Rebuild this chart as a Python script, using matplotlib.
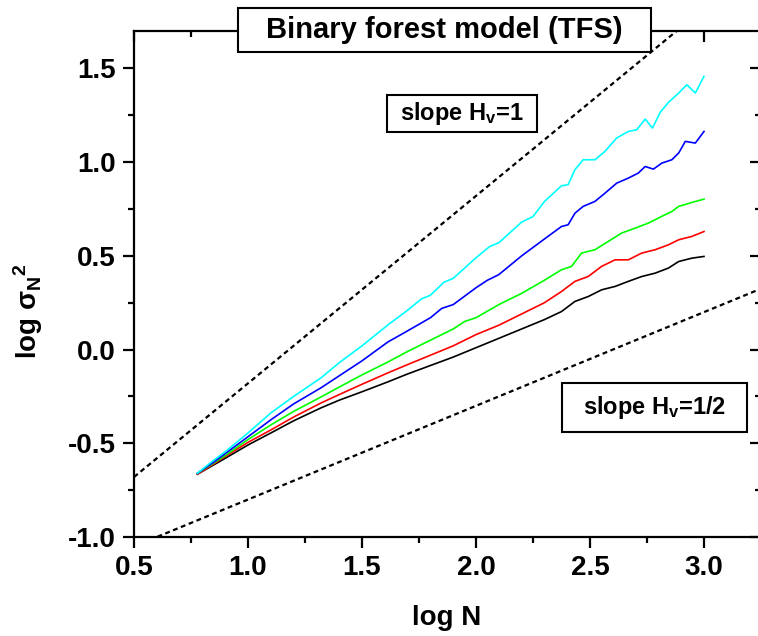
import matplotlib
matplotlib.use('Agg')
import matplotlib.pyplot as plt
from matplotlib.patches import Rectangle
from matplotlib.ticker import MultipleLocator

plt.rcParams['font.family'] = ['Liberation Sans', 'DejaVu Sans']
plt.rcParams['font.weight'] = 'bold'
plt.rcParams['mathtext.fontset'] = 'custom'
plt.rcParams['mathtext.rm'] = 'Liberation Sans:bold'
plt.rcParams['mathtext.it'] = 'Liberation Sans:bold'
plt.rcParams['mathtext.bf'] = 'Liberation Sans:bold'

# curves (log N, log sigma_N^2)
cyan_x = [0.778, 0.85, 0.9, 1.0, 1.1, 1.2, 1.32, 1.4, 1.5, 1.614, 1.7, 1.76, 1.8, 1.86, 1.9, 2.0, 2.06,
          2.1, 2.2, 2.25, 2.3, 2.375, 2.404, 2.434, 2.470, 2.522, 2.566, 2.617, 2.668, 2.705, 2.742,
          2.774, 2.808, 2.844, 2.889, 2.925, 2.962, 3.0]
cyan_y = [-0.66, -0.59, -0.545, -0.445, -0.338, -0.25, -0.151, -0.07, 0.02, 0.132, 0.21, 0.27, 0.29,
          0.36, 0.38, 0.49, 0.55, 0.57, 0.68, 0.71, 0.79, 0.874, 0.880, 0.960, 1.013, 1.013, 1.058,
          1.129, 1.164, 1.173, 1.230, 1.182, 1.266, 1.319, 1.369, 1.413, 1.369, 1.458]

blue_x = [0.778, 0.85, 0.9, 1.0, 1.1, 1.2, 1.32, 1.4, 1.5, 1.614, 1.7, 1.8, 1.85, 1.9, 2.0, 2.05, 2.1,
          2.2, 2.3, 2.375, 2.404, 2.434, 2.470, 2.522, 2.566, 2.617, 2.668, 2.712, 2.742, 2.778, 2.815,
          2.859, 2.889, 2.918, 2.962, 3.0]
blue_y = [-0.66, -0.60, -0.555, -0.465, -0.375, -0.29, -0.204, -0.14, -0.06, 0.041, 0.10, 0.17, 0.22,
          0.24, 0.33, 0.37, 0.40, 0.50, 0.59, 0.657, 0.666, 0.728, 0.764, 0.791, 0.835, 0.888, 0.915,
          0.942, 0.977, 0.963, 0.995, 1.013, 1.049, 1.111, 1.102, 1.164]

green_x = [0.778, 0.85, 0.9, 1.0, 1.1, 1.2, 1.32, 1.4, 1.5, 1.614, 1.7, 1.8, 1.9, 1.95, 2.0, 2.1, 2.2,
           2.3, 2.375, 2.419, 2.463, 2.522, 2.580, 2.639, 2.698, 2.756, 2.815, 2.859, 2.889, 2.947, 3.0]
green_y = [-0.66, -0.605, -0.565, -0.48, -0.402, -0.33, -0.253, -0.20, -0.135, -0.066, -0.01, 0.05,
           0.11, 0.15, 0.17, 0.24, 0.30, 0.37, 0.426, 0.444, 0.515, 0.533, 0.577, 0.622, 0.648, 0.675,
           0.711, 0.737, 0.764, 0.785, 0.803]

red_x = [0.778, 0.85, 0.9, 1.0, 1.1, 1.2, 1.32, 1.4, 1.5, 1.614, 1.7, 1.8, 1.9, 2.0, 2.1, 2.2, 2.3,
         2.375, 2.434, 2.492, 2.551, 2.610, 2.668, 2.727, 2.786, 2.844, 2.889, 2.947, 3.0]
red_y = [-0.665, -0.61, -0.57, -0.495, -0.429, -0.36, -0.285, -0.24, -0.185, -0.124, -0.08, -0.03,
         0.02, 0.08, 0.13, 0.19, 0.25, 0.31, 0.364, 0.390, 0.444, 0.479, 0.479, 0.515, 0.533, 0.559,
         0.586, 0.604, 0.630]

black_x = [0.778, 0.85, 0.9, 1.0, 1.1, 1.2, 1.32, 1.4, 1.5, 1.614, 1.7, 1.8, 1.9, 2.0, 2.1, 2.2, 2.3,
           2.375, 2.434, 2.492, 2.551, 2.610, 2.668, 2.727, 2.786, 2.844, 2.889, 2.947, 3.0]
black_y = [-0.665, -0.615, -0.58, -0.509, -0.445, -0.38, -0.311, -0.27, -0.225, -0.172, -0.13, -0.085,
           -0.04, 0.01, 0.06, 0.11, 0.16, 0.203, 0.257, 0.283, 0.319, 0.337, 0.364, 0.390, 0.408, 0.435,
           0.470, 0.488, 0.497]

# reference slopes (dashed)
ref_x = [0.5, 3.25]
slope1_y = [-0.68, 2.07]
slope_half_y = [-1.05, 0.325]

W, H = 758, 636
fig = plt.figure(figsize=(W / 100, H / 100), dpi=100)
ax = fig.add_axes([134 / W, 99 / H, 627 / W, 506 / H])

ax.plot(ref_x, slope1_y, color='black', lw=1.6, ls=(0, (2.2, 1.6)))
ax.plot(ref_x, slope_half_y, color='black', lw=1.6, ls=(0, (2.2, 1.6)))

for xs, ys, c in [(black_x, black_y, '#000000'), (red_x, red_y, '#ff0000'),
                  (green_x, green_y, '#00ff00'), (blue_x, blue_y, '#0000ff'),
                  (cyan_x, cyan_y, '#00ffff')]:
    ax.plot(xs, ys, color=c, lw=1.2)

ax.set_xlim(0.5, 3.25)
ax.set_ylim(-1.0, 1.7)
for a in (ax.xaxis, ax.yaxis):
    a.set_major_locator(MultipleLocator(0.5))
    a.set_minor_locator(MultipleLocator(0.25))
    a.set_major_formatter(lambda v, p: f'{v:.1f}')

for s in ax.spines.values():
    s.set_linewidth(1.6)
ax.tick_params(which='both', width=1.6, labelsize=20, direction='out', top=True, right=True)
ax.tick_params(which='major', length=8, pad=5)
ax.tick_params(which='minor', length=4)
# top and right ticks point inward, like the original
for t in ax.xaxis.get_major_ticks() + ax.xaxis.get_minor_ticks():
    t.tick2line.set_marker(3)
for t in ax.yaxis.get_major_ticks() + ax.yaxis.get_minor_ticks():
    t.tick2line.set_marker(0)

fig.text(447 / W, 1 - 618 / H, 'log N', ha='center', va='center', fontsize=20, fontweight='bold')
fig.text(28 / W, 1 - 311 / H, r'log σ$_N$$^2$', ha='center', va='center', rotation=90,
         fontsize=20, fontweight='bold')


def boxed(text, x0, y0, x1, y1, size):
    fig.add_artist(Rectangle((x0 / W, 1 - y1 / H), (x1 - x0) / W, (y1 - y0) / H,
                             transform=fig.transFigure, fc='white', ec='black', lw=1.5, zorder=9))
    fig.text((x0 + x1) / 2 / W, 1 - (y0 + y1) / 2 / H, text, ha='center', va='center',
             fontsize=size, fontweight='bold', zorder=10)


boxed('Binary forest model (TFS)', 238, 8, 651, 52, 21)
boxed(r'slope H$_v$=1', 387, 95, 537, 132, 17)
boxed(r'slope H$_v$=1/2', 562, 383, 747, 432, 17)

fig.savefig('out.png', dpi=100)
